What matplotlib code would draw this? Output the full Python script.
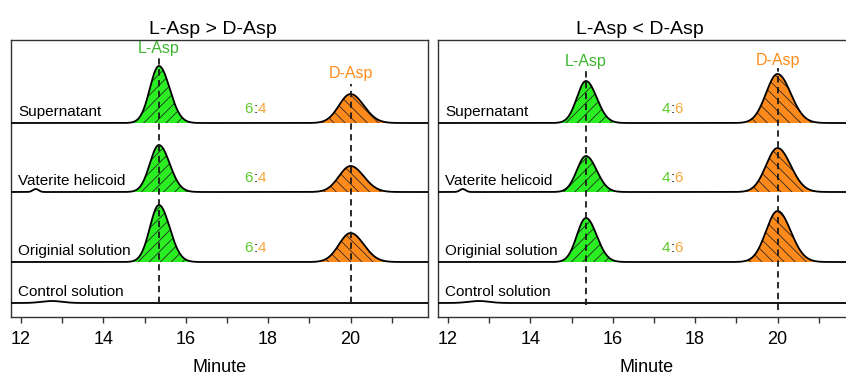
import numpy as np
import matplotlib.pyplot as plt
from matplotlib import transforms

plt.rcParams['font.family'] = ['Liberation Sans', 'DejaVu Sans']
plt.rcParams['hatch.linewidth'] = 0.55

# Donnees (hauteurs en unites arbitraires de signal)
rows = ['Supernatant', 'Vaterite helicoid', 'Originial solution', 'Control solution']
baselines = [194, 125, 55, 14]

titles = ['L-Asp > D-Asp', 'L-Asp < D-Asp']
l_heights = [[57, 47, 57, 0], [42, 36, 44, 0]]
d_heights = [[29, 26, 29, 0], [49, 44, 51, 0]]
ratios = [('6', '4'), ('4', '6')]
ratio_x = [17.69, 17.45]

t_L = 15.35   # temps de retention L-Asp (min)
t_D = 20.0    # temps de retention D-Asp (min)

# petits defauts de ligne de base (position, hauteur, largeur)
bumps = {1: (12.36, 3, 0.07), 3: (12.75, 2, 0.25)}

# hauteur des etiquettes et des pointilles
lab_y = [(268, 243.5), (255.5, 256)]
dash_top = [(260, 233), (247, 249)]
dash_bot = [(14, 14), (12, 7)]

xticks = [12, 14, 16, 18, 20]

green_fill = '#2aee22'
orange_fill = '#ff8a1c'
green_txt = '#3db52e'
orange_txt = '#ff8c1a'
green_ratio = '#5ccc2a'
orange_ratio = '#f9a83a'


def peak(x, t0, h, sl, sr):
    s = np.where(x < t0, sl, sr)
    return h * np.exp(-0.5 * ((x - t0) / s) ** 2)


x = np.linspace(11.5, 22.5, 3000)

fig = plt.figure(figsize=(8.46, 3.77), dpi=100)
positions = [[11 / 846, 60 / 377, 417 / 846, 277 / 377],
             [438 / 846, 60 / 377, 417 / 846, 277 / 377]]

for p in range(2):
    ax = fig.add_axes(positions[p])
    ax.set_xlim(11.76, 21.88)
    ax.set_ylim(0, 277)

    for i, name in enumerate(rows):
        b = baselines[i]
        yl = peak(x, t_L, l_heights[p][i], 0.22, 0.26)
        yd = peak(x, t_D, d_heights[p][i], 0.28, 0.32)
        y = b + yl + yd
        if i in bumps:
            c, h, w = bumps[i]
            y = y + h * np.exp(-0.5 * ((x - c) / w) ** 2)

        if l_heights[p][i] > 0:
            m = (x > 14.5) & (x < 16.15)
            ax.fill_between(x[m], b, y[m], facecolor=green_fill, edgecolor='#1f1f1f',
                            hatch='///', linewidth=0, zorder=2)
            m = (x > 19.25) & (x < 21.1)
            ax.fill_between(x[m], b, y[m], facecolor=orange_fill, edgecolor='#1f1f1f',
                            hatch='\\\\\\', linewidth=0, zorder=2)
            # rapport L:D
            trans = ax.transData
            yt = b + 14
            ax.text(ratio_x[p], yt, ':', ha='center', va='center', fontsize=11, zorder=5)
            ax.text(ratio_x[p], yt, ratios[p][0], color=green_ratio, ha='right', va='center',
                    fontsize=11, zorder=5,
                    transform=transforms.offset_copy(trans, fig=fig, x=-1.6, units='points'))
            ax.text(ratio_x[p], yt, ratios[p][1], color=orange_ratio, ha='left', va='center',
                    fontsize=11, zorder=5,
                    transform=transforms.offset_copy(trans, fig=fig, x=1.6, units='points'))

        ax.plot(x, y, color='black', lw=1.3, zorder=3)
        ax.text(11.94, b + 11, name, ha='left', va='center', fontsize=11, zorder=5)

    # pointilles et etiquettes des pics
    ax.plot([t_L, t_L], [dash_bot[p][0], dash_top[p][0]], color='#1a1a1a', lw=1.3,
            dashes=(3.5, 2.5), zorder=4)
    ax.plot([t_D, t_D], [dash_bot[p][1], dash_top[p][1]], color='#1a1a1a', lw=1.3,
            dashes=(3.5, 2.5), zorder=4)
    ax.text(t_L, lab_y[p][0], 'L-Asp', color=green_txt, ha='center', va='center', fontsize=11.5)
    ax.text(t_D, lab_y[p][1], 'D-Asp', color=orange_txt, ha='center', va='center', fontsize=11.5)

    ax.set_yticks([])
    ax.set_xticks(xticks)
    ax.set_xticks(np.arange(13, 22, 2), minor=True)
    ax.tick_params(axis='x', which='both', direction='out', length=4, width=1,
                   colors='#333333', labelcolor='black', labelsize=13, pad=6)
    for s in ax.spines.values():
        s.set_color('#333333')
        s.set_linewidth(1.0)
    ax.set_xlabel('Minute', fontsize=13, labelpad=8)
    ax.set_title(titles[p], fontsize=14, pad=4, x=0.484)

fig.savefig('out.png', dpi=100)
